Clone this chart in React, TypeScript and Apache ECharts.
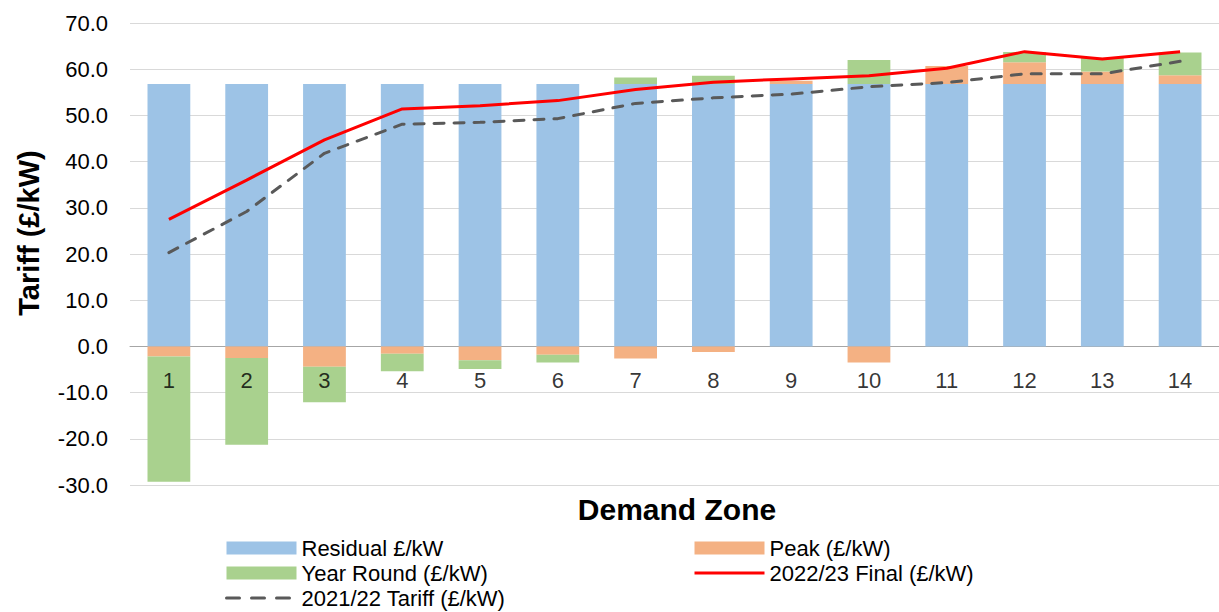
import React, { useEffect, useRef } from "react";
import * as echarts from "echarts";

const zones = ["1", "2", "3", "4", "5", "6", "7", "8", "9", "10", "11", "12", "13", "14"];
const residual = [56.8, 56.8, 56.8, 56.8, 56.8, 56.8, 56.8, 56.8, 56.8, 56.8, 56.8, 56.8, 56.8, 56.8];
const peak = [-2.2, -2.5, -4.4, -1.6, -3.0, -1.8, -2.6, -1.2, 0.7, -3.5, 3.9, 4.7, 2.7, 1.9];
const yearRound = [-27.1, -18.8, -7.7, -3.8, -1.9, -1.7, 1.4, 1.8, 0, 5.2, 0, 2.2, 3.0, 4.9];
const final2223 = [27.5, 36.0, 44.7, 51.4, 52.1, 53.2, 55.6, 57.2, 57.9, 58.6, 60.2, 63.8, 62.2, 63.8];
const tariff2122 = [20.3, 29.2, 41.8, 48.1, 48.5, 49.3, 52.6, 53.8, 54.6, 56.2, 57.1, 59.0, 59.0, 61.7];

const FONT = "'Liberation Sans', Arial, sans-serif";

export default function App() {
  const ref = useRef<HTMLDivElement>(null);
  useEffect(() => {
    if (!ref.current) return;
    const chart = echarts.init(ref.current, undefined, { renderer: "svg" });
    const legendBase = {
      orient: "vertical",
      top: 537,
      padding: 0,
      itemWidth: 70,
      itemHeight: 13,
      itemGap: 3,
      textStyle: { fontSize: 22, color: "#000", fontFamily: FONT },
    };
    chart.setOption({
      animation: false,
      textStyle: { fontFamily: FONT },
      grid: { left: 130, right: 0, top: 23, bottom: 127, containLabel: false },
      legend: [
        {
          ...legendBase,
          left: 225,
          data: [
            { name: "Residual £/kW", icon: "rect" },
            { name: "Year Round (£/kW)", icon: "rect" },
            {
              name: "2021/22 Tariff (£/kW)",
              itemStyle: { opacity: 0 },
              lineStyle: { width: 3, type: [13, 12], cap: "round", color: "#595959" },
            },
          ],
        },
        {
          ...legendBase,
          left: 693,
          data: [
            { name: "Peak (£/kW)", icon: "rect" },
            {
              name: "2022/23 Final (£/kW)",
              itemStyle: { opacity: 0 },
              lineStyle: { width: 3, color: "#ff0000" },
            },
          ],
        },
      ],
      xAxis: {
        type: "category",
        data: zones,
        axisLine: { onZero: true, lineStyle: { color: "#a6a6a6", width: 1 } },
        axisTick: { show: false },
        axisLabel: { show: false },
      },
      yAxis: {
        type: "value",
        min: -30,
        max: 70,
        interval: 10,
        axisLine: { show: false },
        axisTick: { show: false },
        axisLabel: {
          fontSize: 22,
          color: "#000",
          margin: 22,
          fontFamily: FONT,
          formatter: (v: number) => v.toFixed(1),
        },
        splitLine: { lineStyle: { color: "#d9d9d9", width: 1 } },
      },
      graphic: [
        {
          type: "text",
          x: 29,
          y: 233,
          rotation: Math.PI / 2,
          style: {
            text: "Tariff (£/kW)",
            font: `bold 29px ${FONT}`,
            fill: "#000",
            align: "center",
            verticalAlign: "middle",
          },
        },
        {
          type: "text",
          x: 677,
          y: 509,
          style: {
            text: "Demand Zone",
            font: `bold 30px ${FONT}`,
            fill: "#000",
            align: "center",
            verticalAlign: "middle",
          },
        },
      ],
      series: [
        {
          name: "Residual £/kW",
          type: "bar",
          stack: "t",
          barWidth: "55%",
          data: residual,
          itemStyle: { color: "#9dc3e6" },
        },
        {
          name: "Peak (£/kW)",
          type: "bar",
          stack: "t",
          barWidth: "55%",
          data: peak,
          itemStyle: { color: "#f4b183" },
        },
        {
          name: "Year Round (£/kW)",
          type: "bar",
          stack: "t",
          barWidth: "55%",
          data: yearRound,
          itemStyle: { color: "#a9d18e" },
        },
        {
          name: "2022/23 Final (£/kW)",
          type: "line",
          data: final2223,
          symbol: "none",
          lineStyle: { color: "#ff0000", width: 3 },
          itemStyle: { color: "#ff0000" },
          z: 5,
        },
        {
          name: "2021/22 Tariff (£/kW)",
          type: "line",
          data: tariff2122,
          symbol: "none",
          lineStyle: { color: "#595959", width: 3, type: [10, 10], cap: "round" },
          itemStyle: { color: "#595959" },
          z: 4,
        },
        {
          name: "zoneLabels",
          type: "scatter",
          silent: true,
          symbolSize: 0,
          z: 10,
          data: zones.map((z) => ({ name: z, value: [z, 0] })),
          label: {
            show: true,
            position: "inside",
            offset: [0, 34],
            formatter: "{b}",
            fontSize: 22,
            color: "#000",
            textBorderWidth: 0,
            fontFamily: FONT,
            verticalAlign: "middle",
            align: "center",
          },
        },
      ],
    });
    return () => chart.dispose();
  }, []);
  return (
    <div
      ref={ref}
      style={{ position: "absolute", left: 0, top: 0, width: 1219, height: 612 }}
    />
  );
}
